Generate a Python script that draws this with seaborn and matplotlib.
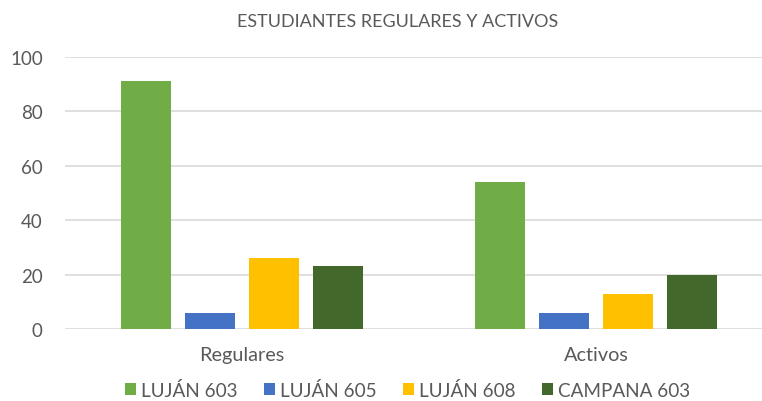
import matplotlib
matplotlib.use("Agg")
import matplotlib.pyplot as plt
import seaborn as sns
import pandas as pd

categories = ["Regulares", "Activos"]
series = ["LUJÁN 603", "LUJÁN 605", "LUJÁN 608", "CAMPANA 603"]
values = {
    "LUJÁN 603": [91, 54],
    "LUJÁN 605": [6, 6],
    "LUJÁN 608": [26, 13],
    "CAMPANA 603": [23, 20],
}
colors = ["#70AD47", "#4472C4", "#FFC000", "#43682B"]
yticks = [0, 20, 40, 60, 80, 100]

rows = []
for s in series:
    for c, v in zip(categories, values[s]):
        rows.append({"cat": c, "serie": s, "val": v})
df = pd.DataFrame(rows)

sns.set_theme(style="white")
plt.rcParams["font.family"] = ["Lato", "DejaVu Sans"]
txt = "#595959"

fig = plt.figure(figsize=(7.62, 4.02), dpi=100)
ax = fig.add_axes([65 / 762, 72 / 402, 697 / 762, 272 / 402])
sns.barplot(data=df, x="cat", y="val", hue="serie", order=categories,
            hue_order=series, palette=colors, width=0.723, gap=0.22,
            saturation=1, edgecolor="none", ax=ax, legend=True)

ax.set_ylim(0, 100)
ax.set_xlim(-0.5, 1 + 166 / 354)
ax.set_yticks(yticks)
ax.yaxis.grid(True, color="#d9d9d9", linewidth=1.2)
ax.set_axisbelow(True)
for sp in ax.spines.values():
    sp.set_visible(False)
ax.tick_params(axis="y", length=0, labelsize=13.5, colors=txt, pad=16)
ax.tick_params(axis="x", length=0, labelsize=14.3, colors=txt, pad=12)
ax.set_xlabel("")
ax.set_ylabel("")

fig.text(0.522, 1 - 22 / 402, "ESTUDIANTES REGULARES Y ACTIVOS", ha="center",
         va="center", fontsize=13, color=txt)

handles, labels = ax.get_legend_handles_labels()
ax.legend_.remove()
leg = fig.legend(handles, labels, loc="center", bbox_to_anchor=(0.535, 1 - 391 / 402),
                 ncol=4, frameon=False, fontsize=13.6, handlelength=0.6,
                 handleheight=0.6, handletextpad=0.25, columnspacing=1.4,
                 labelcolor=txt)

fig.savefig("out.png", dpi=100)
